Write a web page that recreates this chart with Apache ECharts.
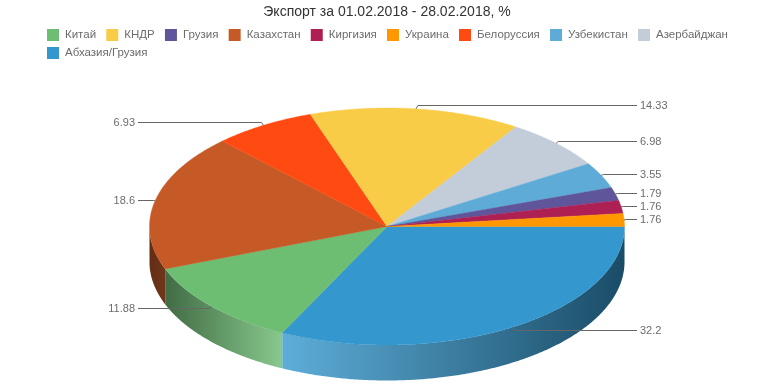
<!DOCTYPE html>
<html>
<head>
<meta charset="utf-8">
<style>
  html, body { margin: 0; padding: 0; background: #fff; }
  #chart { width: 774px; height: 387px; }
</style>
<script src="https://cdn.jsdelivr.net/npm/echarts@6/dist/echarts.min.js"></script>
</head>
<body>
<div id="chart"></div>
<script>
const titleText = 'Экспорт за 01.02.2018 - 28.02.2018, %';

// slices in drawing order, clockwise from 3 o'clock
const sliceNames = ['Абхазия/Грузия', 'Китай', 'Казахстан', 'Белоруссия', 'КНДР', 'Азербайджан', 'Узбекистан', 'Грузия', 'Киргизия', 'Украина'];
const sliceValues = [32.2, 11.88, 18.6, 6.93, 14.33, 6.98, 3.55, 1.79, 1.76, 1.76];
const sliceColors = ['#3498ce', '#6dbd73', '#c65a27', '#ff4a12', '#f9cc47', '#c3ccd9', '#5fabd8', '#5f559b', '#ae1f54', '#ff9800'];

const legendRow1 = ['Китай', 'КНДР', 'Грузия', 'Казахстан', 'Киргизия', 'Украина', 'Белоруссия', 'Узбекистан', 'Азербайджан'];
const legendRow2 = ['Абхазия/Грузия'];

// pie layout
const cx = 387, cy = 226.5, rx = 237.5, ry = 118.5, depth = 35.5;
const labelColor = '#6c6c6c';
const total = sliceValues.reduce((a, b) => a + b, 0);

function arc(from, to, dy) {
    const pts = [];
    const steps = Math.max(2, Math.ceil((to - from) / (Math.PI / 360)));
    for (let i = 0; i <= steps; i++) {
        const a = from + (to - from) * i / steps;
        pts.push([cx + rx * Math.cos(a), cy + ry * Math.sin(a) + dy]);
    }
    return pts;
}

function hex2rgb(c) {
    return [1, 3, 5].map(i => parseInt(c.substr(i, 2), 16));
}

// t < 0 darkens, t > 0 lightens
function shade(c, t) {
    const rgb = hex2rgb(c).map(v => Math.round(t < 0 ? v * (1 + t) : v + (255 - v) * t));
    return 'rgb(' + rgb.join(',') + ')';
}

function sideFill(color) {
    return {
        type: 'linear', global: true,
        x: cx - rx, y: 0, x2: cx + rx, y2: 0,
        colorStops: [
            { offset: 0, color: shade(color, -0.5) },
            { offset: 0.285, color: shade(color, 0.2) },
            { offset: 1, color: shade(color, -0.5) }
        ]
    };
}

function renderSlice(index) {
    let before = 0;
    for (let i = 0; i < index; i++) before += sliceValues[i];
    const start = before / total * Math.PI * 2;
    const end = (before + sliceValues[index]) / total * Math.PI * 2;
    const mid = (start + end) / 2;
    const color = sliceColors[index];
    const children = [];

    // only the front half of the wall is visible
    const sideEnd = Math.min(end, Math.PI);
    if (start < Math.PI) {
        const pts = arc(start, sideEnd, 0).concat(arc(start, sideEnd, depth).reverse());
        children.push({
            type: 'polygon', z2: 1,
            shape: { points: pts },
            style: { fill: sideFill(color) }
        });
    }

    children.push({
        type: 'polygon', z2: 2,
        shape: { points: [[cx, cy]].concat(arc(start, end, 0)) },
        style: { fill: color, stroke: color, lineWidth: 0.4 }
    });

    // leader line and value label
    const right = Math.cos(mid) >= 0;
    const edgeX = cx + rx * Math.cos(mid);
    const edgeY = cy + ry * Math.sin(mid);
    const lineY = Math.round(227 - 0.8 + 122 * Math.sin(mid)) + 0.5;
    const elbowX = edgeX + (right ? 2 : -2);
    const endX = right ? 637 : 138;
    children.push({
        type: 'polyline', z2: 3,
        shape: { points: [[edgeX, edgeY], [elbowX, lineY], [endX, lineY]] },
        style: { stroke: '#666', lineWidth: 1, fill: null }
    });
    children.push({
        type: 'text', z2: 4,
        style: {
            x: right ? 640 : 135,
            y: lineY,
            text: String(sliceValues[index]),
            fill: labelColor,
            font: '11px "Liberation Sans"',
            align: right ? 'left' : 'right',
            verticalAlign: 'middle'
        }
    });

    return { type: 'group', children: children };
}

function legendOpt(names, top) {
    return {
        data: names,
        left: 47,
        top: top,
        icon: 'rect',
        itemWidth: 12,
        itemHeight: 12,
        itemGap: 10.2,
        padding: 0,
        selectedMode: false,
        textStyle: { color: labelColor, fontSize: 11.5, fontFamily: 'Liberation Sans', padding: [0, 0, 0, 1] }
    };
}

const option = {
    animation: false,
    backgroundColor: '#fff',
    title: {
        text: titleText,
        left: 'center',
        top: 0,
        textStyle: { color: '#333', fontSize: 14, fontWeight: 'normal', fontFamily: 'Liberation Sans' }
    },
    legend: [legendOpt(legendRow1, 29), legendOpt(legendRow2, 47)],
    series: sliceNames.map((name, i) => ({
        type: 'custom',
        name: name,
        coordinateSystem: 'none',
        silent: true,
        itemStyle: { color: sliceColors[i] },
        data: [[sliceValues[i]]],
        renderItem: () => renderSlice(i)
    }))
};

const chart = echarts.init(document.getElementById('chart'));
chart.setOption(option);
</script>
</body>
</html>
